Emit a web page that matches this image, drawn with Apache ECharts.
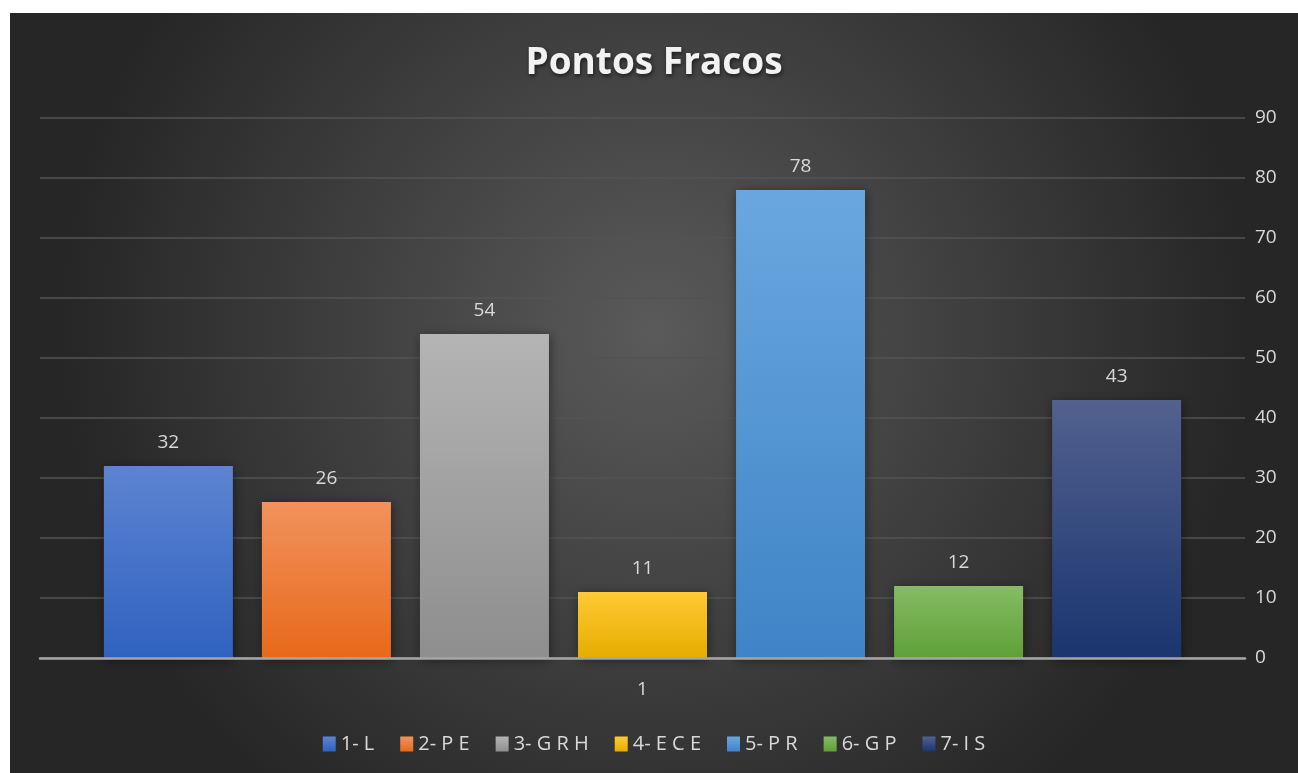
<!DOCTYPE html>
<html>
<head>
<meta charset="utf-8">
<script src="https://cdn.jsdelivr.net/npm/echarts@6/dist/echarts.min.js"></script>
<style>
  html, body { margin: 0; padding: 0; background: #ffffff; }
  #chart { position: absolute; left: 10px; top: 13px; width: 1288px; height: 760px; }
</style>
</head>
<body>
<div id="chart"></div>
<script>
// Chart data
const categories = ['1'];
const seriesNames = ['1- L', '2- P E', '3- G R H', '4- E C E', '5- P R', '6- G P', '7- I S'];
const seriesValues = [32, 26, 54, 11, 78, 12, 43];
const yTicks = { min: 0, max: 90, interval: 10 };

// Gradient stops per series (top, bottom)
const barColors = [
  ['#5d84d1', '#2f62c0'],
  ['#f1925c', '#e8691a'],
  ['#b4b4b4', '#8e8e8e'],
  ['#ffca35', '#e5ad00'],
  ['#6aa7e0', '#3f84c6'],
  ['#85bc64', '#5fa036'],
  ['#52618f', '#1a356f']
];

const chart = echarts.init(document.getElementById('chart'));
const textColor = '#d9d9d9';
const fontFamily = '"Open Sans", "Noto Sans", sans-serif';

const series = seriesNames.map((name, i) => ({
  name: name,
  type: 'bar',
  data: [seriesValues[i]],
  barGap: '22.5%',
  barCategoryGap: '10.6%',
  itemStyle: {
    color: new echarts.graphic.LinearGradient(0, 0, 0, 1, [
      { offset: 0, color: barColors[i][0] },
      { offset: 1, color: barColors[i][1] }
    ]),
    shadowBlur: 10,
    shadowColor: 'rgba(0,0,0,0.45)',
    shadowOffsetX: 1,
    shadowOffsetY: 2
  },
  label: {
    show: true,
    position: 'top',
    distance: 14,
    color: textColor,
    fontSize: 19,
    fontFamily: fontFamily
  },
  z: 2
}));

chart.setOption({
  backgroundColor: new echarts.graphic.RadialGradient(0.5, 0.42, 0.78, [
    { offset: 0, color: '#5a5a5a' },
    { offset: 1, color: '#262626' }
  ]),
  title: {
    text: 'Pontos Fracos',
    left: 'center',
    top: 27,
    textStyle: {
      color: '#f2f2f2',
      fontSize: 37,
      fontWeight: 'bold',
      fontFamily: fontFamily,
      textShadowColor: 'rgba(0,0,0,0.6)',
      textShadowBlur: 4,
      textShadowOffsetX: 1,
      textShadowOffsetY: 2
    }
  },
  legend: {
    bottom: 14,
    left: 'center',
    itemWidth: 13,
    itemHeight: 15,
    itemGap: 26,
    icon: 'rect',
    textStyle: { color: textColor, fontSize: 20, fontFamily: fontFamily },
    data: seriesNames
  },
  grid: { left: 30, right: 53, top: 105, bottom: 115, containLabel: false },
  xAxis: {
    type: 'category',
    data: categories,
    axisLine: { show: true, lineStyle: { color: '#a6a6a6', width: 2.5 } },
    axisTick: { show: false },
    axisLabel: { color: textColor, fontSize: 19, fontFamily: fontFamily, margin: 22 },
    z: 3
  },
  yAxis: {
    type: 'value',
    position: 'right',
    min: yTicks.min,
    max: yTicks.max,
    interval: yTicks.interval,
    axisLine: { show: false },
    axisTick: { show: false },
    axisLabel: { color: textColor, fontSize: 19, fontFamily: fontFamily, margin: 10 },
    splitLine: { lineStyle: { color: '#535353', width: 1.5 } }
  },
  series: series
});
</script>
</body>
</html>
